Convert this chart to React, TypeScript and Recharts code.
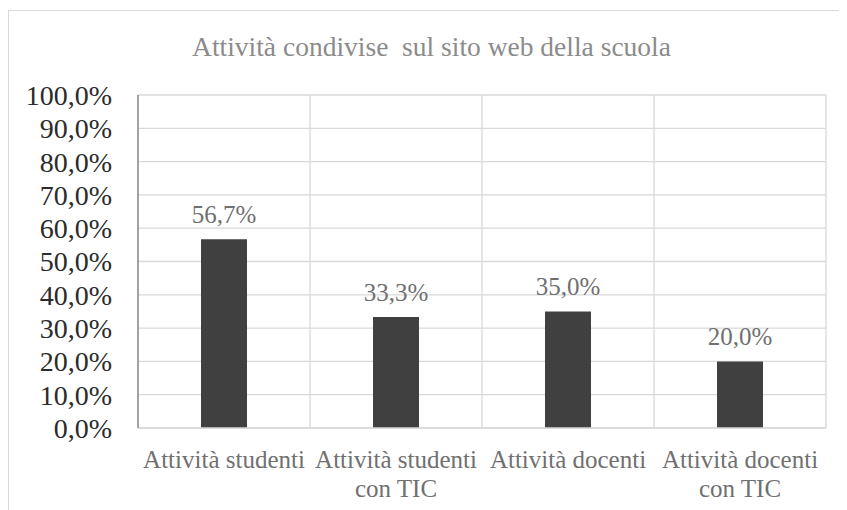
import { BarChart, Bar, XAxis, YAxis, CartesianGrid, LabelList } from "recharts";

const categories = [
    "Attività studenti",
    "Attività studenti con TIC",
    "Attività docenti",
    "Attività docenti con TIC",
];
const shares = [56.7, 33.3, 35.0, 20.0];
const yTicks = [0, 10, 20, 30, 40, 50, 60, 70, 80, 90, 100];

const data = categories.map((name, i) => ({ name, value: shares[i] }));

const FONT = "'Liberation Serif', 'Times New Roman', serif";
const pct = (v: number) => `${Number(v).toFixed(1).replace(".", ",")}%`;

// Excel ha spezzato le etichette lunghe prima di "con TIC"
function CategoryTick({ x, y, payload }: any) {
    const label: string = payload.value;
    const idx = label.indexOf(" con ");
    const lines = idx >= 0 ? [label.slice(0, idx), label.slice(idx + 1)] : [label];
    return (
        <text x={x} y={y} textAnchor="middle" fill="#707070" fontSize={25} fontFamily={FONT}>
            {lines.map((line, i) => (
                <tspan key={i} x={x} y={y + 40 + i * 29}>
                    {line}
                </tspan>
            ))}
        </text>
    );
}

export default function App() {
    return (
        <div style={{ position: "relative", width: 839, height: 502 }}>
            <div
                style={{
                    position: "absolute",
                    left: 0,
                    top: 2,
                    width: 839,
                    height: 500,
                    boxSizing: "border-box",
                    borderTop: "1px solid #d9d9d9",
                    borderLeft: "1px solid #d9d9d9",
                }}
            />
            <div
                style={{
                    position: "absolute",
                    left: 0,
                    top: 25,
                    width: 847,
                    textAlign: "center",
                    fontFamily: FONT,
                    fontSize: 27.5,
                    lineHeight: "28px",
                    color: "#8b8b8b",
                    whiteSpace: "pre",
                }}
            >
                {"Attività condivise  sul sito web della scuola"}
            </div>
            <BarChart
                width={839}
                height={502}
                data={data}
                margin={{ top: 87, right: 21, bottom: 2, left: 20 }}
                style={{ position: "absolute", left: 0, top: 0 }}
            >
                <CartesianGrid
                    stroke="#d9d9d9"
                    strokeWidth={1.3}
                    verticalCoordinatesGenerator={({ offset }: any) =>
                        [0, 1, 2, 3, 4].map((i) => offset.left + (i * offset.width) / 4)
                    }
                />
                <XAxis
                    dataKey="name"
                    height={80}
                    interval={0}
                    tickLine={false}
                    tickSize={0}
                    tickMargin={0}
                    axisLine={{ stroke: "#d9d9d9", strokeWidth: 1.3 }}
                    tick={<CategoryTick />}
                />
                <YAxis
                    width={110}
                    domain={[0, 100]}
                    ticks={yTicks}
                    interval={0}
                    tickFormatter={pct}
                    tickLine={false}
                    tickSize={0}
                    tickMargin={26}
                    axisLine={{ stroke: "#8c8c8c", strokeWidth: 1.5 }}
                    tick={{ fill: "#2b2b2b", fontSize: 28, fontFamily: FONT }}
                />
                <Bar dataKey="value" fill="#404040" barSize={46} isAnimationActive={false}>
                    <LabelList
                        dataKey="value"
                        position="top"
                        offset={16}
                        formatter={(v: any) => pct(v)}
                        fill="#707070"
                        fontSize={25}
                        fontFamily={FONT}
                    />
                </Bar>
            </BarChart>
        </div>
    );
}
